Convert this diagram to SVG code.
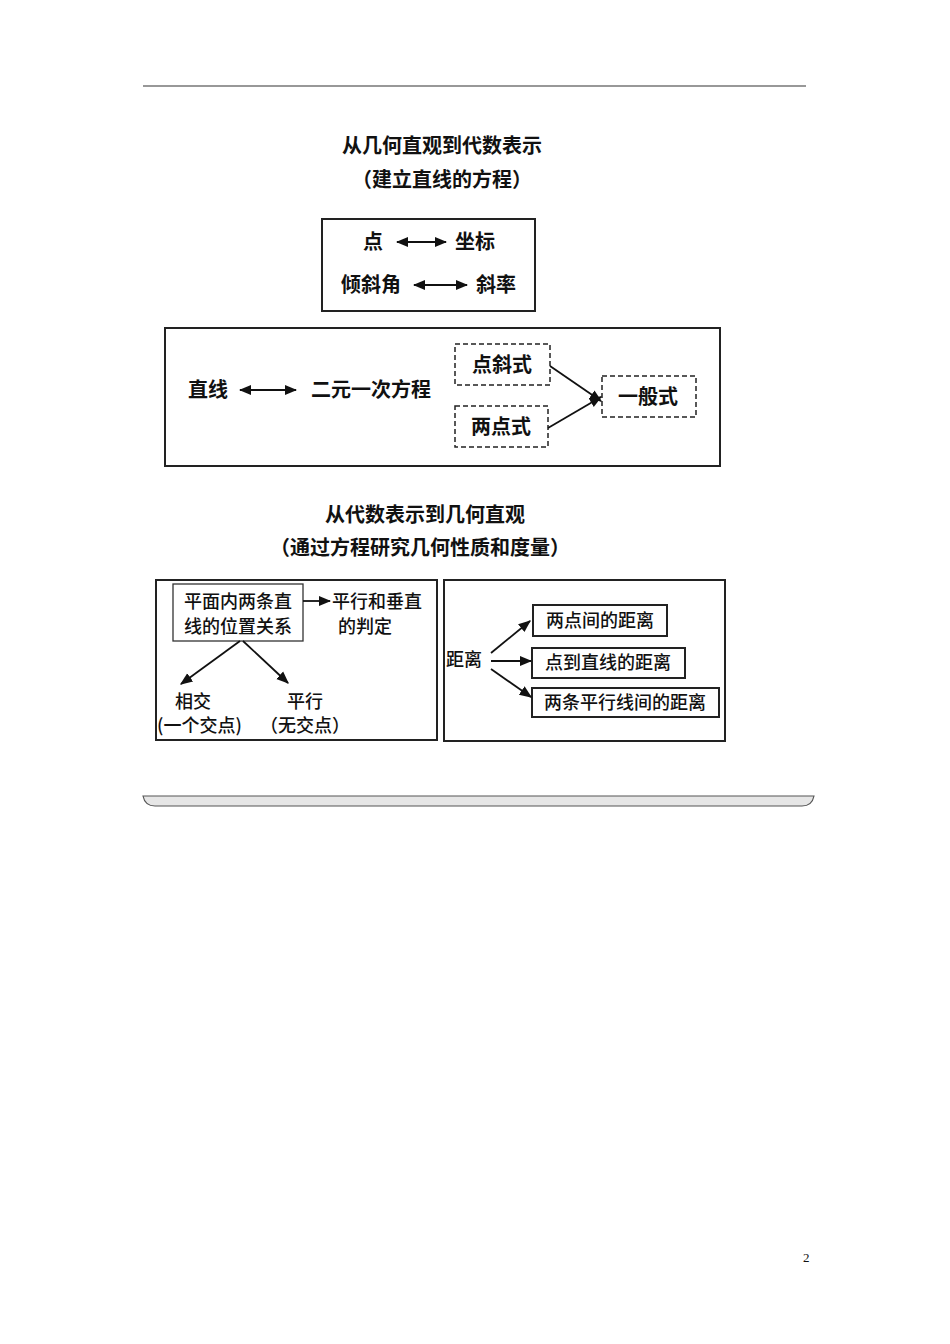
<svg xmlns="http://www.w3.org/2000/svg" width="950" height="1344" viewBox="0 0 950 1344">
<style>
text{font-family:"Noto Sans CJK SC","Liberation Serif",sans-serif;fill:#111}
.t{font-size:20px;font-weight:bold}
.s{font-size:18px;font-weight:500}
.b{fill:#fff;stroke:#222;stroke-width:2}
.d{fill:#fff;stroke:#222;stroke-width:1.5;stroke-dasharray:5,3}
.c{stroke:#111;stroke-width:1.8;fill:none}
</style>
<defs><marker id="a" viewBox="0 0 10 10" refX="9" refY="5" markerWidth="7" markerHeight="7" orient="auto-start-reverse"><path d="M0,1L10,5L0,9z" fill="#111"/></marker></defs>
<rect width="950" height="1344" fill="#fff"/>
<line x1="143" y1="86" x2="806" y2="86" stroke="#333" stroke-width="1.2"/>
<text class="t" x="442" y="153" text-anchor="middle">从几何直观到代数表示</text>
<text class="t" x="442" y="187" text-anchor="middle">（建立直线的方程）</text>
<g id="box1"><rect class="b" x="322" y="219" width="213" height="92"/>
<text class="t" x="373" y="249" text-anchor="middle">点</text>
<text class="t" x="475" y="249" text-anchor="middle">坐标</text>
<text class="t" x="371" y="292" text-anchor="middle">倾斜角</text>
<text class="t" x="496" y="292" text-anchor="middle">斜率</text></g>
<g id="box2"><rect class="b" x="165" y="328" width="555" height="138"/>
<text class="t" x="208" y="397" text-anchor="middle">直线</text>
<text class="t" x="371" y="397" text-anchor="middle">二元一次方程</text></g>
<g id="n1"><rect class="d" x="455" y="344" width="95" height="41"/><text class="t" x="502" y="372" text-anchor="middle">点斜式</text></g>
<g id="n2"><rect class="d" x="455" y="406" width="93" height="41"/><text class="t" x="501" y="434" text-anchor="middle">两点式</text></g>
<g id="n3"><rect class="d" x="602" y="376" width="94" height="41"/><text class="t" x="648" y="404" text-anchor="middle">一般式</text></g>
<text class="t" x="425" y="522" text-anchor="middle">从代数表示到几何直观</text>
<text class="t" x="420" y="555" text-anchor="middle">（通过方程研究几何性质和度量）</text>
<g id="box3"><rect class="b" x="156" y="580" width="281" height="160"/>
<rect fill="#fff" stroke="#333" stroke-width="1.3" x="173" y="584" width="130" height="57"/>
<text class="s" x="238" y="608" text-anchor="middle">平面内两条直</text>
<text class="s" x="238" y="633" text-anchor="middle">线的位置关系</text>
<text class="s" x="332" y="608">平行和垂直</text>
<text class="s" x="338" y="633">的判定</text>
<text class="s" x="193" y="708" text-anchor="middle">相交</text>
<text class="s" x="157" y="732">(一个交点)</text>
<text class="s" x="305" y="708" text-anchor="middle">平行</text>
<text class="s" x="260" y="732">（无交点）</text></g>
<g id="box4"><rect class="b" x="444" y="580" width="281" height="161"/>
<text class="s" x="446" y="666">距离</text>
<rect class="b" x="533" y="605" width="134" height="31"/><text class="s" x="600" y="627" text-anchor="middle">两点间的距离</text>
<rect class="b" x="532" y="648" width="153" height="30"/><text class="s" x="608" y="669" text-anchor="middle">点到直线的距离</text>
<rect class="b" x="532" y="688" width="187" height="29"/><text class="s" x="625" y="709" text-anchor="middle">两条平行线间的距离</text></g>
<g id="connectors">
<line class="c" x1="397" y1="242" x2="446" y2="242" marker-start="url(#a)" marker-end="url(#a)"/>
<line class="c" x1="414" y1="285" x2="467" y2="285" marker-start="url(#a)" marker-end="url(#a)"/>
<line class="c" x1="240" y1="390" x2="296" y2="390" marker-start="url(#a)" marker-end="url(#a)"/>
<line class="c" x1="550" y1="366" x2="601" y2="401" marker-end="url(#a)"/>
<line class="c" x1="548" y1="428" x2="601" y2="397" marker-end="url(#a)"/>
<line class="c" x1="303" y1="601" x2="330" y2="601" marker-end="url(#a)"/>
<line class="c" x1="240" y1="641" x2="181" y2="684" marker-end="url(#a)"/>
<line class="c" x1="243" y1="641" x2="288" y2="683" marker-end="url(#a)"/>
<line class="c" x1="491" y1="653" x2="530" y2="621" marker-end="url(#a)"/>
<line class="c" x1="491" y1="661" x2="531" y2="661" marker-end="url(#a)"/>
<line class="c" x1="491" y1="669" x2="531" y2="697" marker-end="url(#a)"/>
</g>
<path d="M143,796 Q145,806 155,806 L802,806 Q812,806 814,796 Z" fill="#e6e6e6" stroke="#555" stroke-width="1.2"/>
<text x="803" y="1262" font-size="13" style="font-family:'Liberation Serif',serif">2</text>
</svg>
